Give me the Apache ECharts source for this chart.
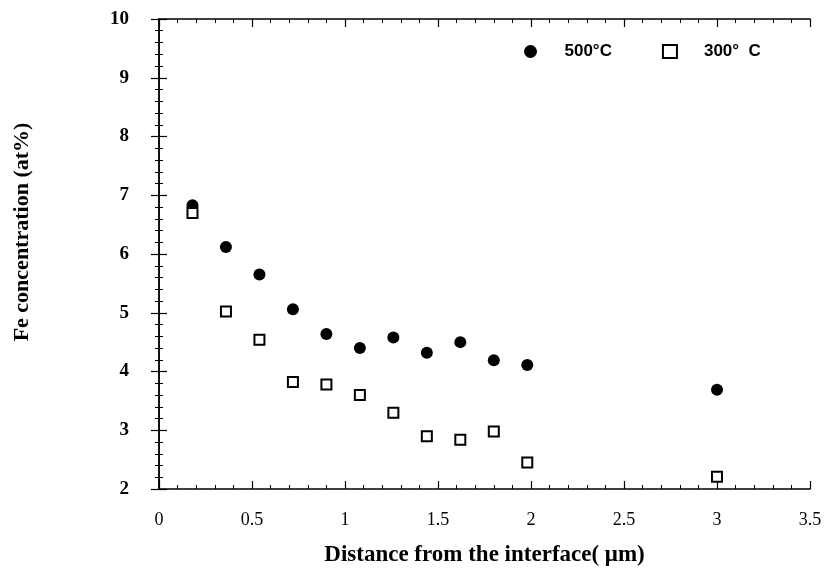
<!DOCTYPE html>
<html><head><meta charset="utf-8">
<script src="https://cdn.jsdelivr.net/npm/echarts@6/dist/echarts.min.js"></script>
<style>html,body{margin:0;padding:0;background:#fff}#c{width:826px;height:576px}</style>
</head><body><div id="c"></div>
<script>
const distance = [0.18, 0.36, 0.54, 0.72, 0.9, 1.08, 1.26, 1.44, 1.62, 1.8, 1.98, 3.0];
const fe500 = [6.83, 6.12, 5.65, 5.06, 4.64, 4.40, 4.58, 4.32, 4.50, 4.19, 4.11, 3.69];
const fe300 = [6.70, 5.02, 4.54, 3.82, 3.78, 3.60, 3.30, 2.90, 2.84, 2.98, 2.45, 2.21];
const seriesNames = ['500°C', '300°  C'];
const xTitle = 'Distance from the interface( μm)';
const yTitle = 'Fe concentration (at%)';

const chart = echarts.init(document.getElementById('c'), null, {renderer: 'canvas'});
const serif = '"Liberation Serif", "DejaVu Serif", serif';
const sans = '"Liberation Sans", Arial, sans-serif';
const tick = () => ({show: true, inside: true, length: 8, lineStyle: {color: '#000', width: 1.2}});
const minor = () => ({show: true, splitNumber: 5, length: 4, lineStyle: {color: '#000', width: 1}});
const line = () => ({show: true, lineStyle: {color: '#000', width: 1.5}});
chart.setOption({
  animation: false,
  backgroundColor: '#fff',
  grid: {left: 159, right: 16, top: 19, bottom: 87},
  legend: {
    left: 519, top: 38,
    itemWidth: 14, itemHeight: 13, itemGap: 50,
    data: [{name: seriesNames[0], icon: 'circle'}, {name: seriesNames[1], icon: 'rect'}],
    textStyle: {fontFamily: sans, fontWeight: 'bold', fontSize: 17, color: '#000', padding: [0, 0, 0, 22]}
  },
  xAxis: [{
    type: 'value', min: 0, max: 3.5, interval: 0.5, position: 'bottom',
    name: xTitle, nameLocation: 'middle', nameGap: 55,
    nameTextStyle: {fontFamily: serif, fontWeight: 'bold', fontSize: 23, color: '#000'},
    axisLine: line(), axisTick: tick(), minorTick: minor(),
    splitLine: {show: false},
    axisLabel: {fontFamily: serif, fontSize: 18, color: '#000', margin: 22}
  }, {
    type: 'value', min: 0, max: 3.5, interval: 0.5, position: 'top',
    axisLine: line(), axisTick: tick(), minorTick: minor(),
    splitLine: {show: false}, axisLabel: {show: false}
  }],
  yAxis: [{
    type: 'value', min: 2, max: 10, interval: 1, position: 'left',
    name: yTitle, nameLocation: 'middle', nameGap: 126,
    nameTextStyle: {fontFamily: serif, fontWeight: 'bold', fontSize: 22, color: '#000', padding: [0, 0, 0, 44]},
    axisLine: line(), axisTick: tick(), minorTick: minor(),
    splitLine: {show: false},
    axisLabel: {fontFamily: serif, fontWeight: 'bold', fontSize: 19, color: '#000', margin: 30}
  }, {
    type: 'value', min: 2, max: 10, interval: 1, position: 'right',
    axisLine: line(), axisTick: tick(), minorTick: minor(),
    splitLine: {show: false}, axisLabel: {show: false}
  }],
  series: [{
    name: seriesNames[0], type: 'scatter', symbol: 'circle', symbolSize: 12,
    itemStyle: {color: '#000', opacity: 1},
    data: distance.map((x, i) => [x, fe500[i]])
  }, {
    name: seriesNames[1], type: 'scatter', symbol: 'rect', symbolSize: 10,
    itemStyle: {color: '#fff', borderColor: '#000', borderWidth: 2, opacity: 1},
    data: distance.map((x, i) => [x, fe300[i]])
  }]
});
</script></body></html>
